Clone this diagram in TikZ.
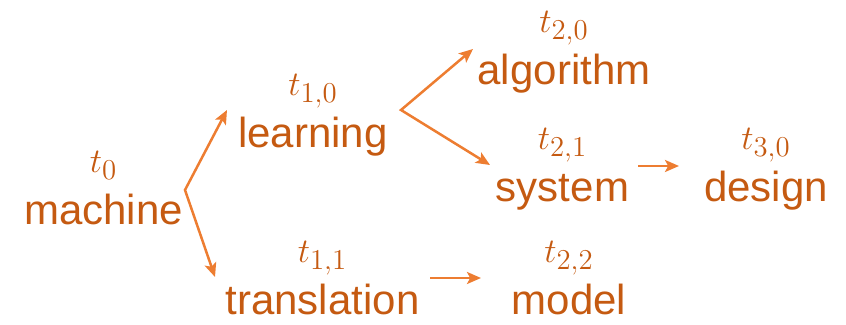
\documentclass[tikz,border=0pt]{standalone}
\usepackage[no-math]{fontspec}
\newfontfamily\wordfont{Liberation Sans}
\usetikzlibrary{arrows.meta}
\definecolor{wordcol}{HTML}{C55A11}
\definecolor{arrcol}{HTML}{ED7D31}
\begin{document}
\begin{tikzpicture}[x=0.5pt,y=0.5pt,
  word/.style={anchor=base,inner sep=0pt,text=wordcol,font=\wordfont\fontsize{21}{25}\selectfont},
  tlab/.style={anchor=base,inner sep=0pt,text=wordcol,font=\fontsize{19}{22}\selectfont},
  arr/.style={draw=arrcol,line width=1.25pt},
  >={Stealth[length=7pt,width=6pt,inset=1.6pt]}]
\useasboundingbox (0,0) rectangle (846,-325);
% words
\node[word] (w0) at (103.5,-225) {machine};
\node[word] (w10) at (313,-148) {learning};
\node[word] (w11) at (322.5,-315) {translation};
\node[word] (w20) at (564,-85) {algorithm};
\node[word] (w21) at (562.5,-202) {system};
\node[word] (w22) at (569,-315) {model};
\node[word] (w30) at (766,-202) {design};
% time labels
\node[tlab] (t0) at ([yshift=26pt]w0.base) {$t_0$};
\node[tlab] (t10) at ([yshift=26pt]w10.base) {$t_{1,0}$};
\node[tlab] (t11) at ([yshift=26pt]w11.base) {$t_{1,1}$};
\node[tlab] (t20) at ([yshift=26pt]w20.base) {$t_{2,0}$};
\node[tlab] (t21) at ([yshift=26pt]w21.base) {$t_{2,1}$};
\node[tlab] (t22) at ([yshift=26pt]w22.base) {$t_{2,2}$};
\node[tlab] (t30) at ([yshift=26pt]w30.base) {$t_{3,0}$};
% arrow ends
\coordinate (f0) at (185,-190);
\coordinate (e10) at (227,-110);
\coordinate (e11) at (215,-277);
\coordinate (f1) at (401,-110);
\coordinate (e20) at (473,-49);
\coordinate (e21) at (490,-165);
\coordinate (s21) at (638,-166);
\coordinate (e30) at (679,-166);
\coordinate (s11) at (430,-278);
\coordinate (e22) at (481,-278);
\draw[arr,<->] (e10) -- (f0) -- (e11);
\draw[arr,<->] (e20) -- (f1) -- (e21);
\draw[arr,->] (s21) -- (e30);
\draw[arr,->] (s11) -- (e22);
\end{tikzpicture}
\end{document}
